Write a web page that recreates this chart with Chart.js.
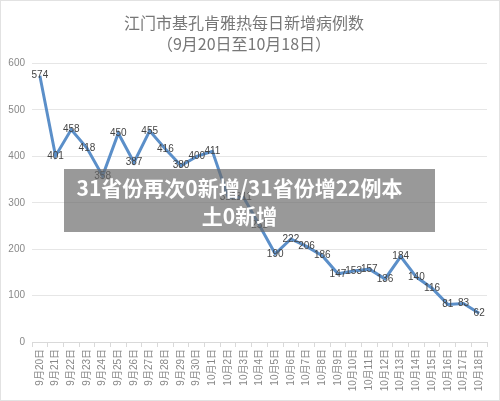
<!DOCTYPE html>
<html lang="zh">
<head>
    <meta charset="UTF-8">
    <title>江门市基孔肯雅热每日新增病例数</title>
    <script src="https://cdn.jsdelivr.net/npm/chart.js"></script>
    <style>
        body { margin: 0; background: #fff; }
        #wrap { position: relative; width: 500px; height: 401px; box-sizing: border-box; border: 1px solid #e2e2e2; }
        #banner {
            position: absolute; left: 63px; top: 168px; width: 371px; height: 63px;
            background: rgba(105, 105, 105, 0.68); color: #fff;
            font-family: "Noto Sans CJK SC", sans-serif; font-weight: bold; font-size: 21px;
            line-height: 28px; text-align: center; box-sizing: border-box; padding: 4px 20px 0 0;
        }
    </style>
</head>
<body>
    <div id="wrap">
        <canvas id="caseChart" width="498" height="399"></canvas>
        <div id="banner">31省份再次0新增/31省份增22例本<br>土0新增</div>
    </div>

    <script>
        // dates and daily new cases
        const dates = ['9月20日', '9月21日', '9月22日', '9月23日', '9月24日', '9月25日', '9月26日', '9月27日',
            '9月28日', '9月29日', '9月30日', '10月1日', '10月2日', '10月3日', '10月4日', '10月5日', '10月6日',
            '10月7日', '10月8日', '10月9日', '10月10日', '10月11日', '10月12日', '10月13日', '10月14日',
            '10月15日', '10月16日', '10月17日', '10月18日'];
        const newCases = [574, 401, 458, 418, 358, 450, 387, 455, 416, 380, 400, 411, 312, 311, 251, 190, 222,
            206, 186, 147, 153, 157, 136, 184, 140, 116, 81, 83, 62];
        const titleLines = ['江门市基孔肯雅热每日新增病例数', '（9月20日至10月18日）'];

        const FONT = '"Liberation Sans", "Noto Sans CJK SC", sans-serif';

        // draws the value on top of every point
        const valueLabels = {
            id: 'valueLabels',
            afterDatasetsDraw(chart) {
                const ctx = chart.ctx;
                const meta = chart.getDatasetMeta(0);
                ctx.save();
                ctx.font = '10px ' + FONT;
                ctx.fillStyle = '#444';
                ctx.textAlign = 'center';
                ctx.textBaseline = 'middle';
                meta.data.forEach((pt, i) => {
                    ctx.fillText(chart.data.datasets[0].data[i], pt.x, pt.y);
                });
                ctx.restore();
            }
        };

        const ctx = document.getElementById('caseChart').getContext('2d');
        new Chart(ctx, {
            type: 'line',
            data: {
                labels: dates,
                datasets: [{
                    data: newCases,
                    borderColor: '#5b8fc9',
                    borderWidth: 3,
                    pointRadius: 0,
                    tension: 0
                }]
            },
            options: {
                responsive: false,
                animation: false,
                layout: { padding: { right: 12 } },
                plugins: {
                    legend: { display: false },
                    tooltip: { enabled: false },
                    title: {
                        display: true,
                        text: titleLines,
                        color: '#777',
                        font: { family: '"Noto Sans CJK SC", sans-serif', size: 16, weight: 'normal', lineHeight: 1.3 },
                        padding: { top: 12, bottom: 9 }
                    }
                },
                scales: {
                    x: {
                        offset: true,
                        grid: { offset: true, drawOnChartArea: false, tickLength: 5, color: '#d9d9d9' },
                        border: { color: '#d9d9d9' },
                        ticks: {
                            minRotation: 90, maxRotation: 90, autoSkip: false, padding: 2,
                            color: '#888', font: { family: FONT, size: 10 }
                        },
                        afterFit: (scale) => { scale.height = 58; }
                    },
                    y: {
                        min: 0,
                        max: 600,
                        ticks: { stepSize: 100, padding: 7, color: '#888', font: { family: FONT, size: 10 } },
                        grid: { color: '#e6e6e6', drawTicks: false },
                        border: { display: false },
                        afterFit: (scale) => { scale.width = 31; }
                    }
                }
            },
            plugins: [valueLabels]
        });
    </script>
</body>
</html>
